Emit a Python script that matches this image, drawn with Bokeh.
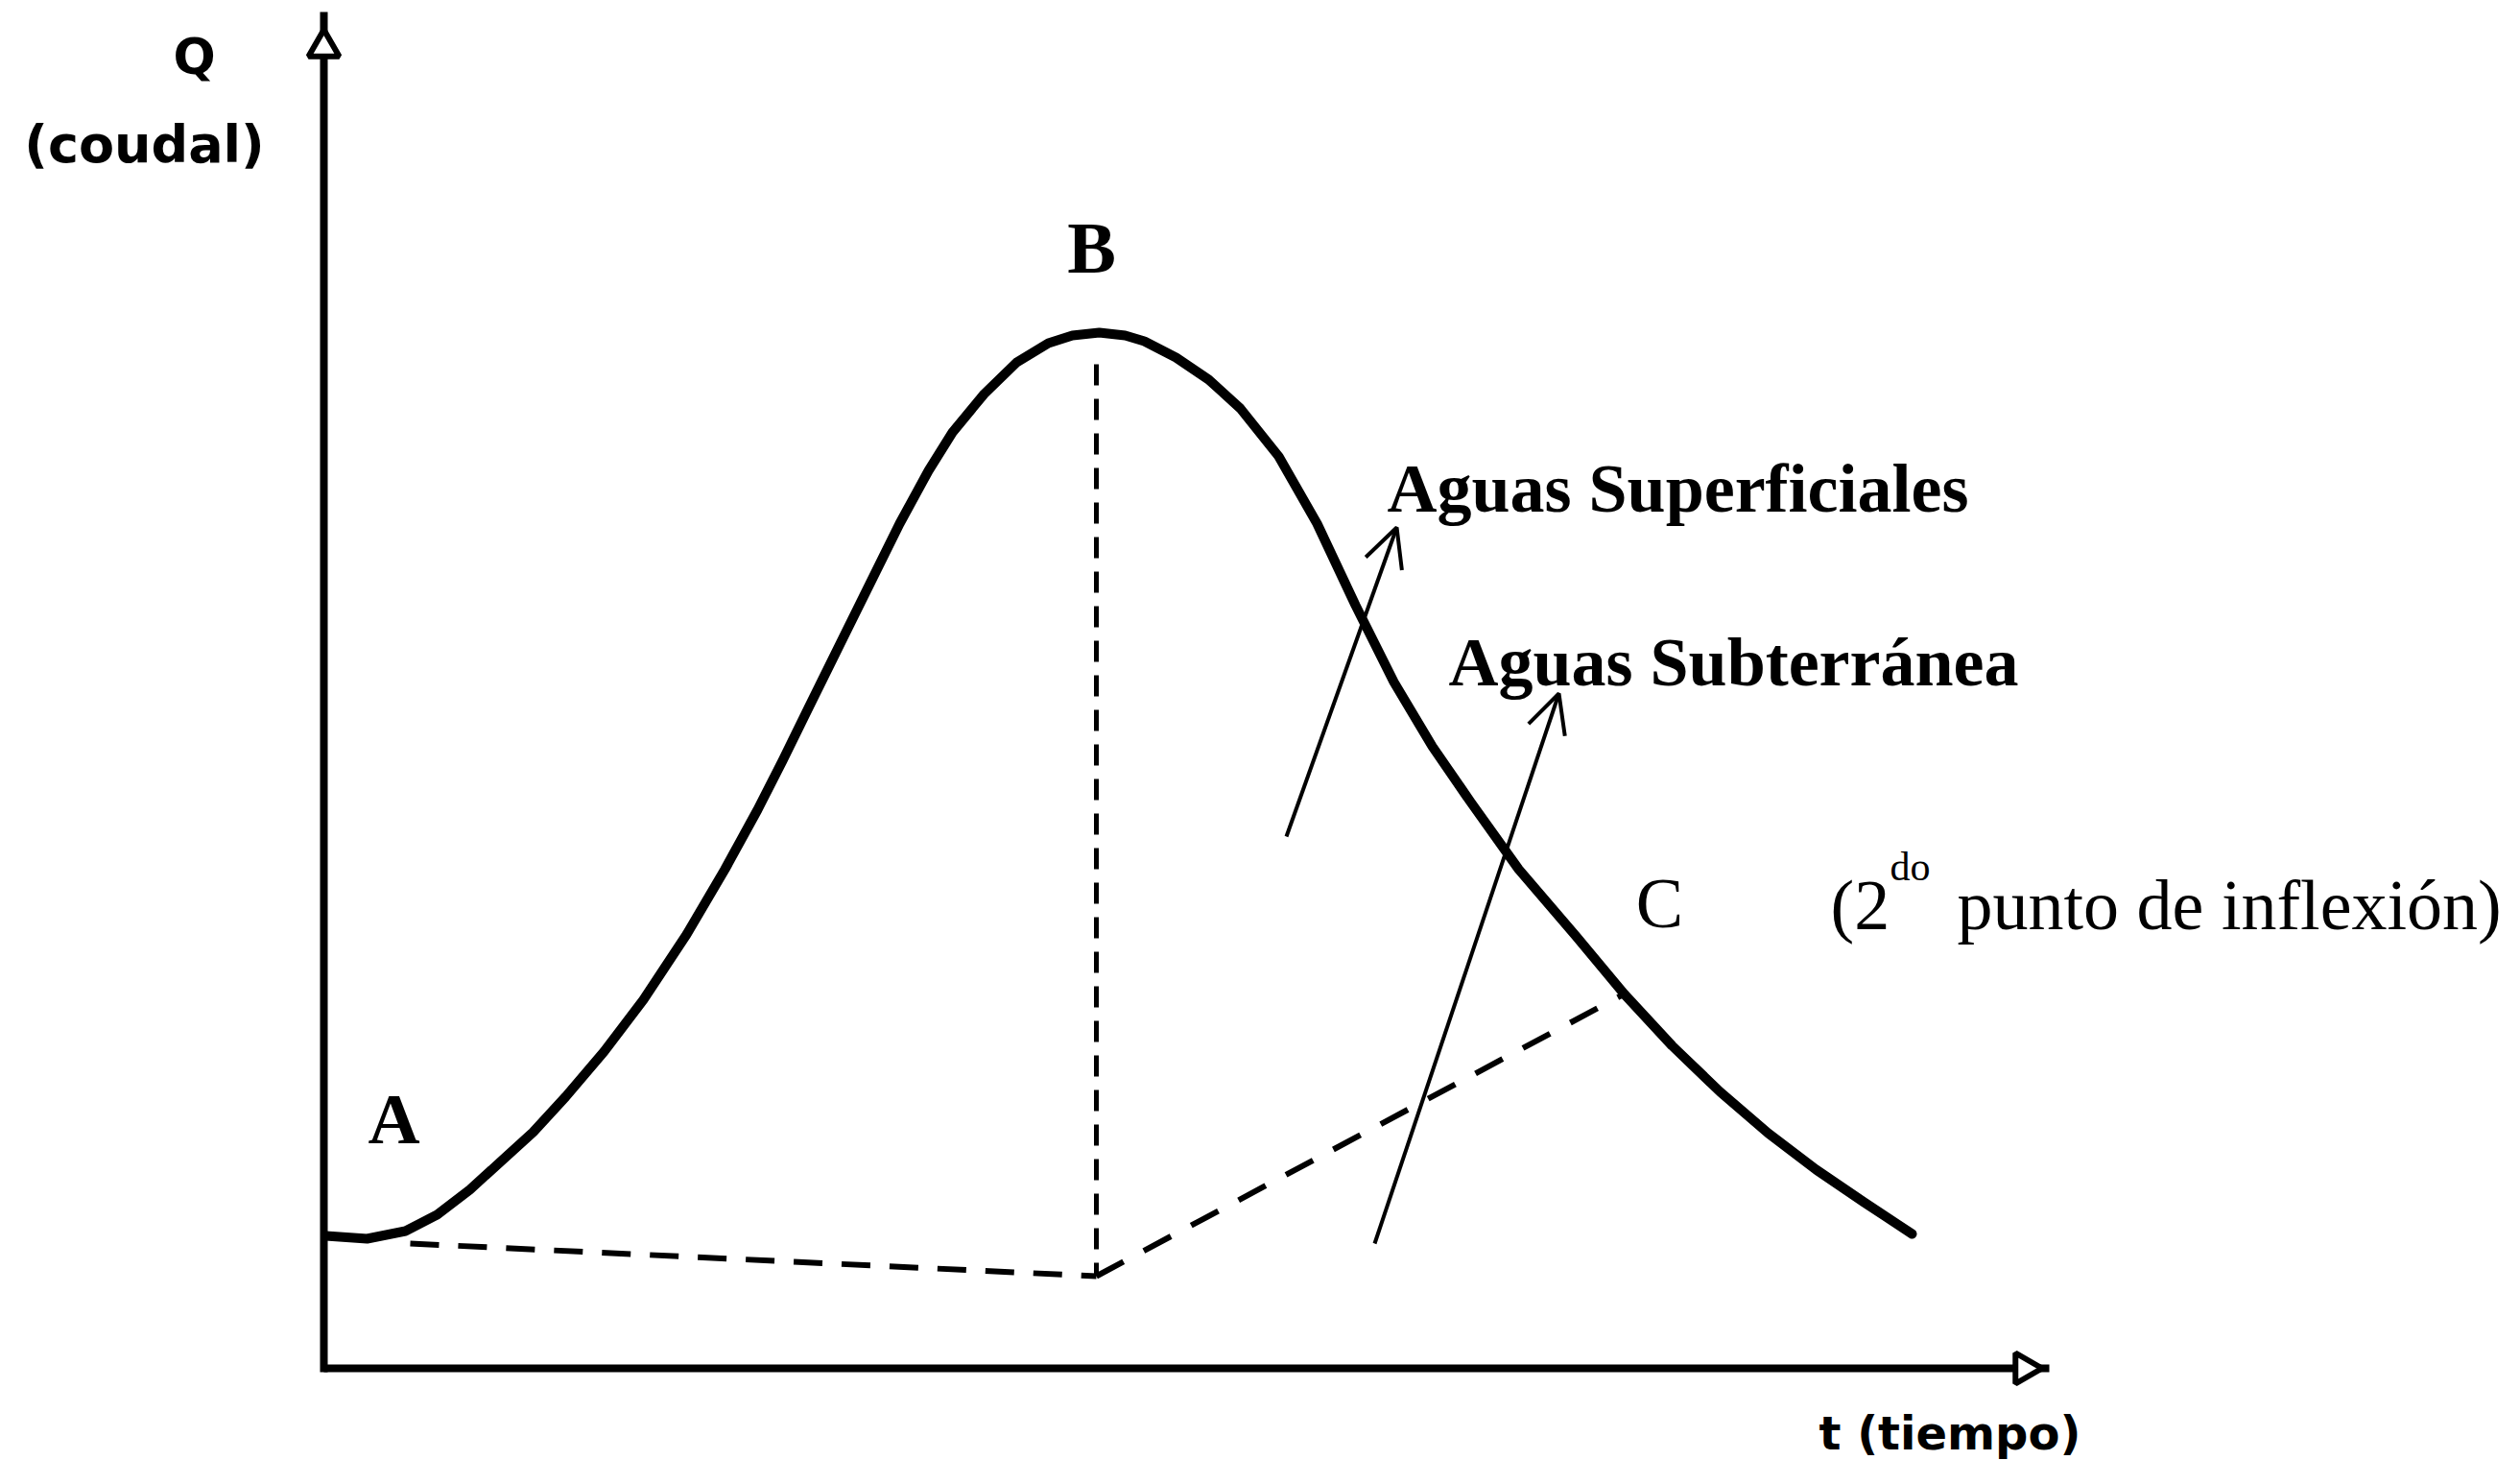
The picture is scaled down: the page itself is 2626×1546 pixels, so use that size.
import numpy as np
from bokeh.plotting import figure
from bokeh.models import Range1d, Arrow, OpenHead
from bokeh.core.properties import value
from bokeh.embed import file_html
from bokeh.resources import INLINE

# ---- data (arbitrary units: t = time, Q = discharge) ----
t_curve = [0.02, 0.45, 0.85, 1.18, 1.52, 1.85, 2.18, 2.52, 2.92, 3.33, 3.78, 4.18,
           4.52, 4.78, 5.05, 5.48, 6.00, 6.30, 6.55, 6.88, 7.22, 7.55, 7.80, 8.08,
           8.35, 8.55, 8.88, 9.22, 9.55, 9.95, 10.35, 10.75, 11.15, 11.55, 11.95,
           12.45, 13.05, 13.55, 14.05, 14.55, 15.05, 15.55, 16.05, 16.55]
q_curve = [1.38, 1.35, 1.43, 1.60, 1.86, 2.16, 2.46, 2.83, 3.30, 3.84, 4.52, 5.20,
           5.82, 6.33, 6.88, 7.75, 8.80, 9.35, 9.75, 10.15, 10.48, 10.68, 10.76, 10.79,
           10.76, 10.70, 10.53, 10.30, 10.00, 9.50, 8.80, 7.95, 7.15, 6.48, 5.90,
           5.20, 4.50, 3.90, 3.36, 2.88, 2.45, 2.07, 1.73, 1.40]

# base-flow separation (A -> below B -> C)
base1_t = [0.90, 8.05]
base1_q = [1.30, 0.96]
base2_t = [8.05, 13.55]
base2_q = [0.96, 3.90]
# vertical drop from the peak B
peak_t = [8.05, 8.05]
peak_q = [10.46, 0.96]

# annotation arrows (start t, start Q, end t, end Q)
arrow_sup = [10.03, 5.54, 11.18, 8.76]
arrow_sub = [10.95, 1.30, 12.87, 7.03]

# axes extents
t_axis_end = 17.98
q_axis_end = 14.13

# ---- figure ----
W, H = 2610, 1530
p = figure(width=W, height=H, output_backend="svg", toolbar_location=None,
           x_axis_type=None, y_axis_type=None, title=None,
           x_range=Range1d(-3.37, 22.73), y_range=Range1d(-1.05, 14.25),
           min_border=0)
p.outline_line_color = None
p.background_fill_color = "white"
p.border_fill_color = "white"

# axes
p.line([0, 0], [-0.04, q_axis_end], line_color="black", line_width=8)
p.line([0, t_axis_end], [0, 0], line_color="black", line_width=8)
p.scatter([0], [13.76], marker="triangle", size=32, fill_color="white",
          line_color="black", line_width=6)
p.scatter([17.72], [0], marker="triangle", size=32, angle=-np.pi / 2,
          fill_color="white", line_color="black", line_width=6)

# dashed lines
p.line(base1_t, base1_q, line_color="black", line_width=6, line_dash="30 20")
p.line(base2_t, base2_q, line_color="black", line_width=6, line_dash="32 24")
p.line(peak_t, peak_q, line_color="black", line_width=5, line_dash="22 14")

# hydrograph
p.line(t_curve, q_curve, line_color="black", line_width=10, line_join="round",
       line_cap="round")

# arrows
for a in (arrow_sup, arrow_sub):
    p.add_layout(Arrow(end=OpenHead(size=40, line_width=4, line_color="black"),
                       x_start=a[0], y_start=a[1], x_end=a[2], y_end=a[3],
                       line_width=4, line_color="black"))

serif = value("Liberation Serif")
sans = value("DejaVu Sans")

# axis labels
p.text(x=[-1.35], y=[13.67], text=["Q"], text_font=sans, text_font_style="bold",
       text_font_size="52px", text_align="center", text_baseline="middle")
p.text(x=[-1.87], y=[12.75], text=["(coudal)"], text_font=sans,
       text_font_style="bold", text_font_size="54px", text_align="center",
       text_baseline="middle")
p.text(x=[15.58], y=[-0.67], text=["t (tiempo)"], text_font=sans,
       text_font_style="bold", text_font_size="48px", text_align="left",
       text_baseline="middle")

# point labels
p.text(x=[0.73], y=[2.60], text=["A"], text_font=serif, text_font_style="bold",
       text_font_size="75px", text_align="center", text_baseline="alphabetic")
p.text(x=[8.00], y=[11.68], text=["B"], text_font=serif, text_font_style="bold",
       text_font_size="76px", text_align="center", text_baseline="alphabetic")
p.text(x=[13.92], y=[4.85], text=["C"], text_font=serif,
       text_font_size="74px", text_align="center", text_baseline="alphabetic")

p.text(x=[11.08], y=[9.17], text=["Aguas Superficiales"], text_font=serif,
       text_font_style="bold", text_font_size="72px", text_align="left",
       text_baseline="alphabetic")
p.text(x=[11.72], y=[7.36], text=["Aguas Subterránea"], text_font=serif,
       text_font_style="bold", text_font_size="72px", text_align="left",
       text_baseline="alphabetic")

p.text(x=[15.70], y=[4.83], text=["(2"], text_font=serif,
       text_font_size="74px", text_align="left", text_baseline="alphabetic")
p.text(x=[16.32], y=[5.23], text=["do"], text_font=serif,
       text_font_size="42px", text_align="left", text_baseline="alphabetic")
p.text(x=[17.02], y=[4.83], text=["punto de inflexión)"], text_font=serif,
       text_font_size="74px", text_align="left", text_baseline="alphabetic")

open("out.html", "w").write(file_html(p, INLINE))
